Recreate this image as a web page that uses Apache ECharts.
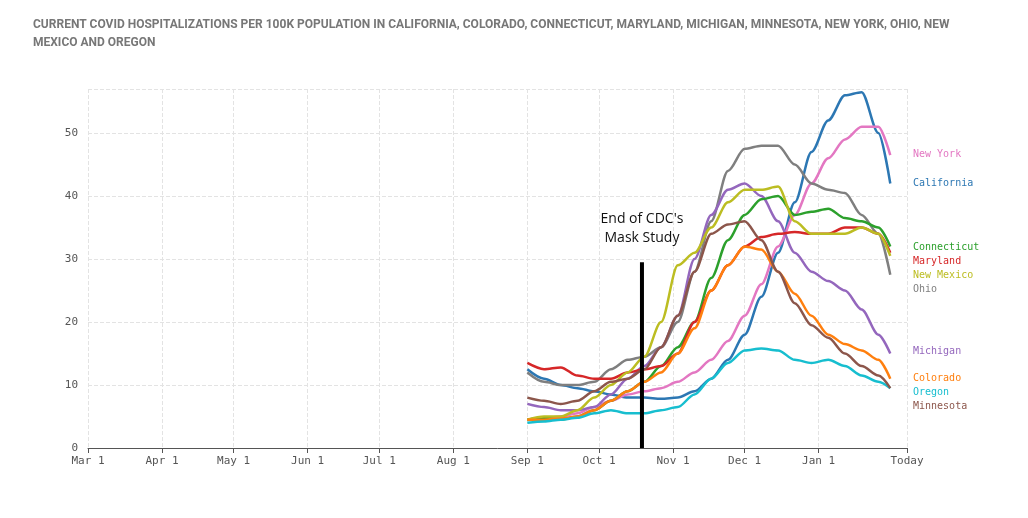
<!DOCTYPE html>
<html><head><meta charset="utf-8">
<script src="https://cdn.jsdelivr.net/npm/echarts@6/dist/echarts.min.js"></script>
<style>html,body{margin:0;background:#fff}#main{width:1028px;height:518px}</style>
</head><body><div id="main"></div>
<script>
// days since Mar 1
const days = [184,191,198,205,212,219,226,233,240,247,254,261,268,275,282,289,296,303,310,317,324,331,336];
const tickDays = [0,31,61,92,122,153,184,214,245,275,306,343];
const tickLabels = ['Mar 1','Apr 1','May 1','Jun 1','Jul 1','Aug 1','Sep 1','Oct 1','Nov 1','Dec 1','Jan 1','Today'];

const california = [12.5,11,10,9.5,9,8.5,8,8,7.8,8,9,11,14,18,24,31,39,47,52,56,56.5,50,42];
const newYork = [4.5,4.7,5,5.5,6.5,7.5,8.5,9,9.5,10.5,12,14,17,21,26,32,37,42,46,49,51,51,46.5];
const ohio = [12,10.5,10,10,10.5,12.5,14,14.5,16,20,28,36,44,47.5,48,48,45,42,41,40.5,37,34,27.5];
const michigan = [7,6.5,6,6,6.5,8.5,11,13,16,21,30,37,41,42,40,36,31,28,26.5,25,22,18,15];
const connecticut = [4.5,4.8,4.5,5,6,7.5,9,10.5,13,16,20,27,33,37,39.5,40,37,37.5,38,36.5,36,35,32];
const maryland = [13.5,12.5,12.8,11.5,11,11,12,12.5,13,15,20,25,29,32,33.5,34,34.3,34,34,35,35,34,31];
const newMexico = [4.5,5,5,6,8,10,12,14.5,20,29,31,35,39,41,41,41.5,36,34,34,34,35,34,30.5];
const colorado = [4.5,4.5,4.7,5,6,7.5,9,10.5,12,15,19,25,29,32,31.5,28,24.5,21,18,16.5,15.5,14,11];
const oregon = [4,4.2,4.5,4.8,5.5,6,5.5,5.5,6,6.5,8.5,11,13.5,15.5,15.8,15.5,14,13.5,14,13,11.5,10.5,9.5];
const minnesota = [8,7.5,7,7.5,9,10.5,11,12.5,16,21,28,34,35.5,36,33,28,23,19.5,17.5,15,13,11.5,9.5];

const states = [
  ['California', california, '#2c77b3', 183],
  ['New York', newYork, '#e377c2', 154],
  ['Ohio', ohio, '#7f7f7f', 289],
  ['Michigan', michigan, '#9467bd', 351],
  ['Connecticut', connecticut, '#2ca02c', 247],
  ['Maryland', maryland, '#d62728', 261],
  ['New Mexico', newMexico, '#bcbd22', 275],
  ['Colorado', colorado, '#ff7f0e', 378],
  ['Oregon', oregon, '#17becf', 392],
  ['Minnesota', minnesota, '#8c564b', 406]
];
const studyEnd = 232;

const chart = echarts.init(document.getElementById('main'));
const series = states.map(s => ({
  type: 'line', name: s[0], smooth: 0.3, smoothMonotone: 'x', showSymbol: false,
  lineStyle: { width: 2.5, color: s[2] }, itemStyle: { color: s[2] },
  data: days.map((d, i) => [d, s[1][i]])
}));
series.push({
  type: 'line', showSymbol: false, lineStyle: { width: 4, color: '#000' },
  data: [[studyEnd, 0], [studyEnd, 29.5]],
  markPoint: {
    symbol: 'rect', symbolSize: 1, itemStyle: { color: 'transparent' },
    data: [{ coord: [studyEnd, 31] }],
    label: { show: true, position: 'top', formatter: "End of CDC's\nMask Study",
      color: '#111', fontSize: 14, lineHeight: 19, fontFamily: 'Open Sans' }
  }
});

chart.setOption({
  animation: false,
  title: {
    text: 'CURRENT COVID HOSPITALIZATIONS PER 100K POPULATION IN CALIFORNIA, COLORADO, CONNECTICUT, MARYLAND, MICHIGAN, MINNESOTA, NEW YORK, OHIO, NEW\nMEXICO AND OREGON',
    left: 28, top: 11,
    textStyle: { fontSize: 12, fontWeight: 'bold', color: '#777', lineHeight: 18, fontFamily: 'Roboto' }
  },
  grid: { left: 88, right: 121, top: 89, bottom: 70 },
  xAxis: {
    type: 'value', min: 0, max: 343,
    axisLine: { show: true, lineStyle: { color: '#555' } },
    axisTick: { show: true, customValues: tickDays, length: 5, lineStyle: { color: '#555' } },
    axisLabel: { customValues: tickDays, formatter: v => tickLabels[tickDays.indexOf(v)],
      fontFamily: 'DejaVu Sans Mono', fontSize: 11, color: '#555' },
    splitLine: { show: true, lineStyle: { type: 'dashed', color: '#e3e3e3' } }
  },
  yAxis: {
    type: 'value', min: 0, max: 57, interval: 10,
    axisLine: { show: false }, axisTick: { show: false },
    axisLabel: { showMaxLabel: false, fontFamily: 'DejaVu Sans Mono', fontSize: 11, color: '#555', margin: 10 },
    splitLine: { lineStyle: { type: 'dashed', color: '#e3e3e3' } }
  },
  graphic: states.map(s => ({
    type: 'text', left: 913, top: s[3] - 5,
    style: { text: s[0], fill: s[2], font: '10px "DejaVu Sans Mono"' }
  })),
  series: series
});
</script></body></html>
